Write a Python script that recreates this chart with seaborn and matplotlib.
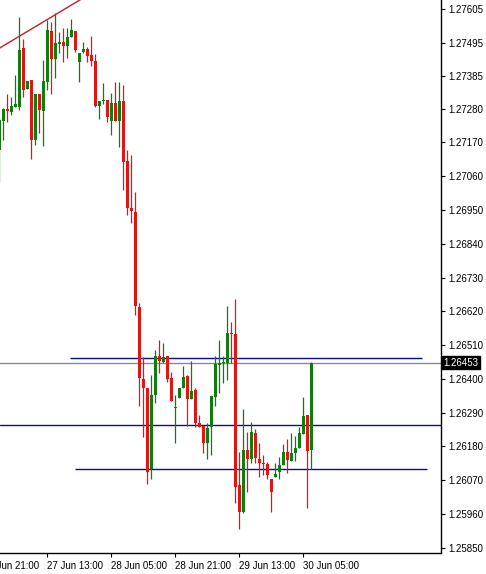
import matplotlib
matplotlib.use("Agg")
import matplotlib.pyplot as plt
import seaborn as sns
import pandas as pd
from matplotlib.transforms import blended_transform_factory

# ---- data (H1 candles) ----
opens = [1.27146, 1.27240, 1.27279, 1.27269, 1.27286, 1.27286, 1.27478, 1.27344, 1.27373, 1.27178,
         1.27328, 1.27273, 1.27367, 1.27533, 1.27442, 1.27492, 1.27497, 1.27484, 1.27514, 1.27533,
         1.27432, 1.27465, 1.27474, 1.27455, 1.27435, 1.27289, 1.27305, 1.27308, 1.27240, 1.27299,
         1.27240, 1.27305, 1.27110, 1.26957, 1.26944, 1.26634, 1.26400, 1.26371, 1.26107, 1.26348,
         1.26475, 1.26455, 1.26475, 1.26403, 1.26304, 1.26338, 1.26371, 1.26410, 1.26335, 1.26364,
         1.26257, 1.26247, 1.26192, 1.26244, 1.26341, 1.26446, 1.26452, 1.26452, 1.26550, 1.26547,
         1.26055, 1.25967, 1.26169, 1.26139, 1.26224, 1.26139, 1.26126, 1.26123, 1.26074, 1.26081,
         1.26097, 1.26120, 1.26162, 1.26133, 1.26159, 1.26175, 1.26221, 1.26283, 1.26169]
highs = [1.27250, 1.27282, 1.27328, 1.27318, 1.27390, 1.27579, 1.27507, 1.27370, 1.27373, 1.27328,
         1.27328, 1.27439, 1.27569, 1.27562, 1.27592, 1.27530, 1.27543, 1.27543, 1.27572, 1.27533,
         1.27461, 1.27497, 1.27481, 1.27517, 1.27458, 1.27305, 1.27364, 1.27308, 1.27331, 1.27367,
         1.27367, 1.27357, 1.27146, 1.27129, 1.27009, 1.26647, 1.26472, 1.26371, 1.26413, 1.26494,
         1.26527, 1.26517, 1.26475, 1.26423, 1.26348, 1.26371, 1.26442, 1.26413, 1.26459, 1.26371,
         1.26283, 1.26247, 1.26257, 1.26345, 1.26475, 1.26527, 1.26475, 1.26638, 1.26586, 1.26660,
         1.26162, 1.26302, 1.26227, 1.26260, 1.26237, 1.26192, 1.26152, 1.26130, 1.26074, 1.26126,
         1.26146, 1.26188, 1.26204, 1.26224, 1.26214, 1.26244, 1.26341, 1.26283, 1.26455]
lows = [1.27041, 1.27178, 1.27237, 1.27260, 1.27286, 1.27276, 1.27318, 1.27344, 1.27116, 1.27162,
        1.27201, 1.27159, 1.27341, 1.27328, 1.27380, 1.27461, 1.27432, 1.27445, 1.27514, 1.27465,
        1.27367, 1.27461, 1.27432, 1.27419, 1.27286, 1.27247, 1.27295, 1.27237, 1.27194, 1.27240,
        1.27155, 1.27015, 1.26934, 1.26908, 1.26608, 1.26312, 1.26211, 1.26058, 1.26074, 1.26322,
        1.26419, 1.26452, 1.26390, 1.26328, 1.26192, 1.26338, 1.26371, 1.26247, 1.26335, 1.26244,
        1.26244, 1.26159, 1.26139, 1.26153, 1.26312, 1.26354, 1.26387, 1.26397, 1.26452, 1.25996,
        1.25910, 1.25964, 1.26032, 1.26126, 1.26126, 1.26081, 1.26087, 1.26074, 1.25967, 1.26081,
        1.26074, 1.26120, 1.26094, 1.26133, 1.26133, 1.26175, 1.26221, 1.25980, 1.26107]
closes = [1.27243, 1.27279, 1.27273, 1.27289, 1.27295, 1.27471, 1.27341, 1.27370, 1.27178, 1.27328,
          1.27276, 1.27370, 1.27536, 1.27442, 1.27494, 1.27494, 1.27484, 1.27514, 1.27536, 1.27471,
          1.27461, 1.27474, 1.27452, 1.27435, 1.27289, 1.27305, 1.27308, 1.27253, 1.27299, 1.27240,
          1.27305, 1.27107, 1.26957, 1.26947, 1.26638, 1.26403, 1.26371, 1.26098, 1.26348, 1.26475,
          1.26459, 1.26472, 1.26400, 1.26328, 1.26306, 1.26371, 1.26406, 1.26335, 1.26361, 1.26257,
          1.26244, 1.26192, 1.26240, 1.26345, 1.26449, 1.26452, 1.26455, 1.26550, 1.26547, 1.26048,
          1.25967, 1.26169, 1.26139, 1.26227, 1.26143, 1.26126, 1.26123, 1.26087, 1.26032, 1.26091,
          1.26120, 1.26162, 1.26136, 1.26159, 1.26175, 1.26224, 1.26279, 1.26165, 1.26453]

date_tick_bars = [-4, 12, 28, 44, 60, 76]
date_labels = ["26 Jun 21:00", "27 Jun 13:00", "28 Jun 05:00", "28 Jun 21:00",
               "29 Jun 13:00", "30 Jun 05:00"]

price_ticks = [1.27605, 1.27495, 1.27385, 1.27280, 1.27170, 1.27060, 1.26950, 1.26840,
               1.26730, 1.26620, 1.26510, 1.26400, 1.26290, 1.26180, 1.26070, 1.25960, 1.25850]

current_price = 1.26453
upper_level = 1.26469
upper_span = [17.7, 105.7]
lower_level = 1.26107
lower_span = [18.9, 106.9]
mid_level = 1.26250
trend_x = [-1, 25]
trend_y = [1.27469, 1.27672]

df = pd.DataFrame({"open": opens, "high": highs, "low": lows, "close": closes})
df["bar"] = range(len(df))

sns.set_style("white")
plt.rcParams["font.family"] = ["Liberation Sans", "DejaVu Sans"]

GREEN = "#0f7d0f"
RED = "#e31414"

fig = plt.figure(figsize=(4.86, 5.74), dpi=100)
ax = fig.add_axes([0, 1 - 553 / 574, 441 / 486, 553 / 574])

px = 1 / 30710.0
up = df["close"] >= df["open"]
colors = [GREEN if u else RED for u in up]

ax.vlines(df["bar"], df["low"], df["high"], colors=colors, linewidth=0.9, zorder=3)
body_bottom = df[["open", "close"]].min(axis=1)
body_h = (df["close"] - df["open"]).abs().clip(lower=px * 1.2)
ax.bar(df["bar"], body_h, bottom=body_bottom, width=0.78, color=colors,
       linewidth=0, zorder=4)

# level lines
ax.axhline(current_price, color="#8a8a8a", linewidth=1.0, zorder=2)
ax.axhline(mid_level, color="#10107a", linewidth=1.0, zorder=2)
ax.hlines(upper_level, upper_span[0], upper_span[1], color="#0a0a96", linewidth=1.0, zorder=2)
ax.hlines(lower_level, lower_span[0], lower_span[1], color="#0a0a96", linewidth=1.0, zorder=2)
ax.plot(trend_x, trend_y, color="#c0202a", linewidth=1.0, zorder=2)

# axes styling (MT4 look)
for s in ["top", "left"]:
    ax.spines[s].set_visible(False)
for s in ["right", "bottom"]:
    ax.spines[s].set_visible(True)
    ax.spines[s].set_color("black")
    ax.spines[s].set_linewidth(1.0)

ax.yaxis.tick_right()
ax.set_yticks(price_ticks)
ax.set_yticklabels([f"{v:.5f}" for v in price_ticks])
ax.tick_params(axis="y", which="both", direction="out", length=3, width=0.8,
               pad=2.5, labelsize=7, colors="black", right=True, left=False)

ax.set_xticks(date_tick_bars[1:])
ax.set_xticklabels(date_labels[1:], ha="left")
ax.tick_params(axis="x", direction="out", length=3, width=0.8, pad=2.5,
               labelsize=7, colors="black", bottom=True)

# limits set after the ticks so they are not widened
ax.set_xlim(0.175, 110.425)
ax.set_ylim(1.25833, 1.27634)

# first date label, partly cut by the left edge (as in the reference)
xtrans = blended_transform_factory(ax.transData, ax.transAxes)
ax.annotate(date_labels[0], xy=(date_tick_bars[0], 0), xycoords=xtrans,
            xytext=(0, -5.5), textcoords="offset points", ha="left", va="top",
            fontsize=7, color="black", annotation_clip=False)

# current price tag
trans = blended_transform_factory(ax.transAxes, ax.transData)
ax.text(1.006, current_price, "1.26453", transform=trans, ha="left", va="center",
        fontsize=7, color="white", zorder=10, clip_on=False,
        bbox=dict(boxstyle="square,pad=0.18", facecolor="black", edgecolor="black"))

ax.set_facecolor("white")
fig.patch.set_facecolor("white")
fig.savefig("out.png", dpi=100, facecolor="white")
